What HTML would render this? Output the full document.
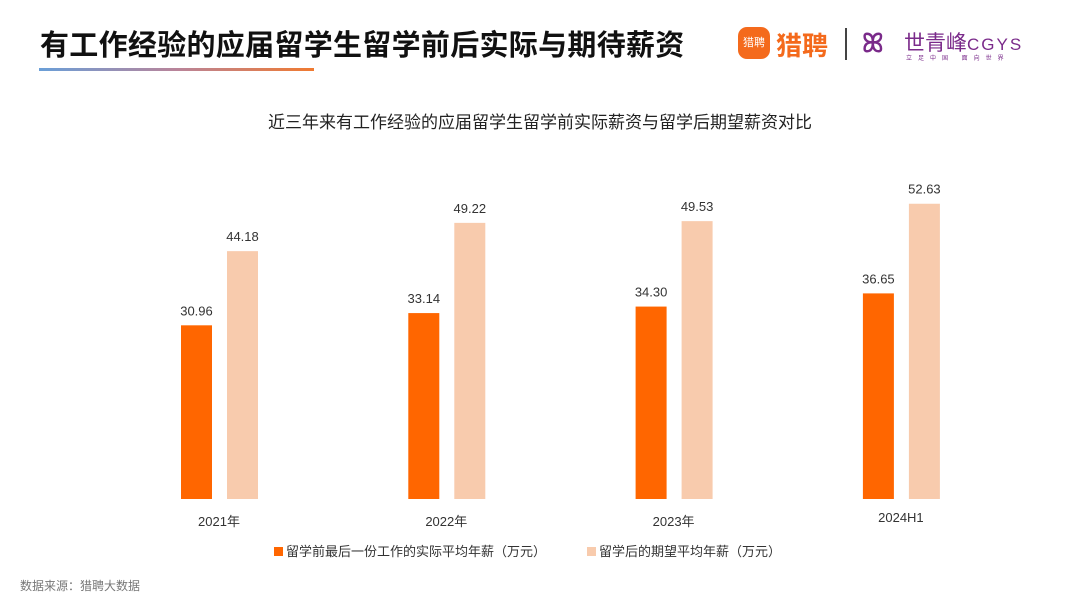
<!DOCTYPE html>
<html><head><meta charset="utf-8"><style>
body{margin:0;width:1080px;height:608px;background:#fff;overflow:hidden;font-family:"Liberation Sans","Noto Sans CJK SC",sans-serif;position:relative}
.abs{position:absolute}
</style></head><body>
<div class="abs" style="left:40px;top:22px;font-size:29px;font-weight:bold;color:#111;letter-spacing:0.3px">有工作经验的应届留学生留学前后实际与期待薪资</div>
<div class="abs" style="left:39px;top:68px;width:275px;height:3px;background:linear-gradient(90deg,#6a9fd8,#b9849a,#f07a30)"></div>
<div class="abs" style="left:738px;top:27px;width:32px;height:32px;border-radius:9px;background:#f46a1c;color:#fff;font-size:11px;line-height:32px;text-align:center">猎聘</div>
<div class="abs" style="left:776px;top:26px;font-size:26px;color:#f46a1c;font-weight:bold">猎聘</div>
<div class="abs" style="left:845px;top:28px;width:2px;height:32px;background:#444"></div>
<div class="abs" style="left:862px;top:28px;font-size:26px;color:#7a2a8a;font-weight:bold;line-height:30px">ꕤ</div>
<div class="abs" style="left:904px;top:27px;font-size:21px;color:#7a2a8a;white-space:nowrap">世青峰<span style="font-size:17px;letter-spacing:2px">CGYS</span></div>
<div class="abs" style="left:906px;top:53px;font-size:6px;color:#7a2a8a;letter-spacing:6px">立足中国 面向世界</div>
<div class="abs" style="left:0;width:1080px;top:108px;text-align:center;font-size:17px;color:#222">近三年来有工作经验的应届留学生留学前实际薪资与留学后期望薪资对比</div>
<svg class="abs" style="left:0;top:0" width="1080" height="608" id="chart"></svg>
<div class="abs" style="left:274px;top:541px;font-size:13px;color:#333;white-space:nowrap"><span style="display:inline-block;width:9px;height:9px;background:#ff6600;margin-right:3px"></span>留学前最后一份工作的实际平均年薪（万元）</div>
<div class="abs" style="left:587px;top:541px;font-size:13px;color:#333;white-space:nowrap"><span style="display:inline-block;width:9px;height:9px;background:#f8cbad;margin-right:3px"></span>留学后的期望平均年薪（万元）</div>
<div class="abs" style="left:20px;top:577px;font-size:12px;color:#777">数据来源：猎聘大数据</div>
<script>
const categories=["2021年","2022年","2023年","2024H1"];
const beforeValues=[30.96,33.14,34.30,36.65];
const afterValues=[44.18,49.22,49.53,52.63];
const svg=document.getElementById('chart');
const NS='http://www.w3.org/2000/svg';
const base=499,scale=5.61,x0=181,step=227.3,bw=31;
function y(v){return base-v*scale;}
function add(tag,attrs,text){const e=document.createElementNS(NS,tag);for(const k in attrs)e.setAttribute(k,attrs[k]);if(text!==undefined)e.textContent=text;svg.appendChild(e);return e;}
categories.forEach((c,i)=>{
  const xb=x0+i*step,xa=xb+46;
  const r1=add('rect',{x:xb,y:y(beforeValues[i]),width:bw,height:beforeValues[i]*scale,fill:'#ff6600'});
  
  
  const r2=add('rect',{x:xa,y:y(afterValues[i]),width:bw,height:afterValues[i]*scale,fill:'#f8cbad'});
  
  
  const t1=add('text',{x:xb+bw/2,y:y(beforeValues[i])-10,'text-anchor':'middle','font-size':13,fill:'#333'},beforeValues[i].toFixed(2));
  
  
  const t2=add('text',{x:xa+bw/2,y:y(afterValues[i])-10,'text-anchor':'middle','font-size':13,fill:'#333'},afterValues[i].toFixed(2));
  
  
  const t3=add('text',{x:xb+38,y:i==3?522:526,'text-anchor':'middle','font-size':13,fill:'#333'},c);
  
  
});
</script>
</body></html>
